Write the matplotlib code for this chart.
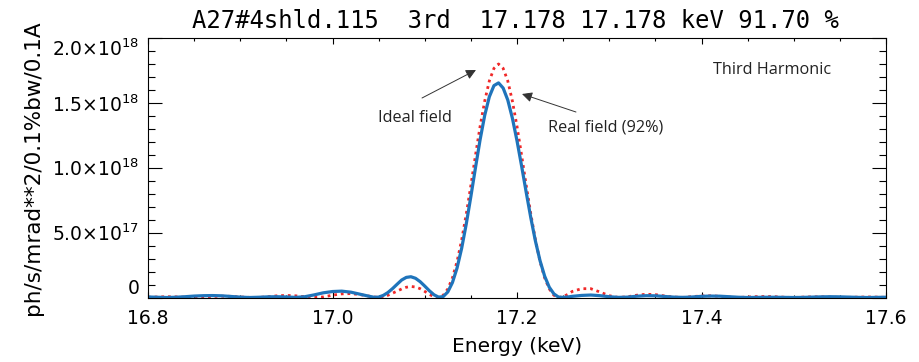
import numpy as np
import matplotlib
matplotlib.use("Agg")
import matplotlib.pyplot as plt
from matplotlib.ticker import MultipleLocator, FixedLocator, FixedFormatter

# energy sampling (keV): coarse in the wings, finer over the main peak
energy = np.round(np.concatenate([
    np.arange(16.80, 17.035, 0.01),
    np.arange(17.04, 17.2625, 0.005),
    np.arange(17.27, 17.605, 0.01),
]), 3)

# flux in units of 1e18 ph/s/mrad^2/0.1%bw/0.1A
ideal_field = [
    0.002, 0.004, 0.006, 0.005, 0.002, 0.000, 0.003, 0.008, 0.010, 0.009,
    0.004, 0.001, 0.000, 0.006, 0.013, 0.016, 0.013, 0.006, 0.001, 0.004,
    0.018, 0.028, 0.030, 0.022,
    0.010, 0.004, 0.000, 0.005, 0.017, 0.033, 0.049, 0.066, 0.079, 0.085,
    0.081, 0.068, 0.047, 0.024, 0.006, 0.000, 0.017, 0.066, 0.151, 0.277,
    0.443, 0.643, 0.864, 1.096, 1.319, 1.514, 1.669, 1.766, 1.800, 1.766,
    1.669, 1.514, 1.319, 1.096, 0.864, 0.643, 0.443, 0.277, 0.151, 0.066,
    0.017, 0.000, 0.006, 0.024, 0.047,
    0.068, 0.068, 0.042, 0.014, 0.000, 0.006, 0.018, 0.025, 0.022, 0.012,
    0.003, 0.001, 0.007, 0.012, 0.013, 0.009, 0.003, 0.000, 0.004, 0.007,
    0.008, 0.006, 0.002, 0.000, 0.003, 0.005, 0.005, 0.003, 0.001, 0.001,
    0.003, 0.004, 0.003, 0.001,
]
real_field = [
    0.004, 0.002, 0.000, 0.002, 0.006, 0.011, 0.014, 0.015, 0.013, 0.008,
    0.003, 0.000, 0.002, 0.005, 0.006, 0.004, 0.001, 0.006, 0.020, 0.036,
    0.046, 0.049, 0.041, 0.025,
    0.009, 0.002, 0.003, 0.016, 0.038, 0.068, 0.102, 0.135, 0.155, 0.160,
    0.148, 0.122, 0.088, 0.052, 0.021, 0.003, 0.007, 0.043, 0.115, 0.227,
    0.379, 0.567, 0.779, 1.001, 1.216, 1.404, 1.547, 1.633, 1.654, 1.614,
    1.522, 1.382, 1.208, 1.013, 0.810, 0.613, 0.434, 0.283, 0.164, 0.079,
    0.028, 0.003, 0.001, 0.004, 0.009,
    0.016, 0.019, 0.014, 0.006, 0.001, 0.003, 0.010, 0.014, 0.013, 0.008,
    0.003, 0.001, 0.004, 0.009, 0.011, 0.010, 0.006, 0.002, 0.000, 0.001,
    0.002, 0.002, 0.001, 0.000, 0.001, 0.003, 0.005, 0.006, 0.005, 0.003,
    0.001, 0.000, 0.001, 0.002,
]

x_ticks = [16.8, 17.0, 17.2, 17.4, 17.6]
x_labels = ["16.8", "17.0", "17.2", "17.4", "17.6"]
y_ticks = [0, 0.5e18, 1.0e18, 1.5e18, 2.0e18]
y_labels = ["0", r"5.0$\times$10$^{17}$", r"1.0$\times$10$^{18}$",
            r"1.5$\times$10$^{18}$", r"2.0$\times$10$^{18}$"]

title = "A27#4shld.115  3rd  17.178 17.178 keV 91.70 %"

fig = plt.figure(figsize=(9.2, 3.62), dpi=100)
ax = fig.add_axes([148 / 920, 1 - 297.5 / 362, 738 / 920, 259.5 / 362])

ax.plot(energy, np.array(ideal_field) * 1e18, color="#f02828", lw=2.0,
        linestyle=(0, (1, 1.4)))
ax.plot(energy, np.array(real_field) * 1e18, color="#1f74bb", lw=2.3)

ax.set_xlim(16.8, 17.6)
ax.set_ylim(0, 2.0e18)

ax.xaxis.set_major_locator(FixedLocator(x_ticks))
ax.xaxis.set_major_formatter(FixedFormatter(x_labels))
ax.xaxis.set_minor_locator(MultipleLocator(0.05))
ax.yaxis.set_major_locator(FixedLocator(y_ticks))
ax.yaxis.set_major_formatter(FixedFormatter(y_labels))
ax.yaxis.set_minor_locator(MultipleLocator(1e17))

ax.tick_params(axis="both", which="both", direction="in", top=True, right=True,
               width=0.8, colors="black", labelsize=13.5)
ax.tick_params(axis="x", which="major", length=4.5, pad=8)
ax.tick_params(axis="x", which="minor", length=2.3)
ax.tick_params(axis="y", which="major", length=10, pad=6)
ax.tick_params(axis="y", which="minor", length=5)
for s in ax.spines.values():
    s.set_linewidth(0.8)

yt = ax.yaxis.get_major_ticks()
yt[0].label1.set_verticalalignment("bottom")
yt[-1].label1.set_verticalalignment("top")

ax.set_xlabel("Energy (keV)", fontsize=14.5, labelpad=7)
ax.set_ylabel("ph/s/mrad**2/0.1%bw/0.1A", fontsize=15.5, labelpad=7)
fig.text(515 / 920, 1 - 21 / 362, title, fontsize=17.2, family="DejaVu Sans Mono",
         ha="center", va="center")

note_font = ["Open Sans", "DejaVu Sans"]
ax.text(0.8455, 0.8767, "Third Harmonic", transform=ax.transAxes, fontsize=11.7,
        family=note_font, ha="center", va="center", color="#222222")
arrow = dict(arrowstyle="-|>", color="#333333", lw=0.7, mutation_scale=15,
             shrinkA=0, shrinkB=0)
ax.annotate("", xy=(0.4444, 0.8767), xytext=(0.3713, 0.7688),
            xycoords="axes fraction", textcoords="axes fraction", arrowprops=arrow)
ax.text(0.3618, 0.6917, "Ideal field", transform=ax.transAxes, fontsize=11.7,
        family=note_font, ha="center", va="center", color="#222222")
ax.annotate("", xy=(0.5068, 0.7842), xytext=(0.5799, 0.7148),
            xycoords="axes fraction", textcoords="axes fraction", arrowprops=arrow)
ax.text(0.6206, 0.6532, "Real field (92%)", transform=ax.transAxes, fontsize=11.7,
        family=note_font, ha="center", va="center", color="#222222")

fig.savefig("out.png", dpi=100)
